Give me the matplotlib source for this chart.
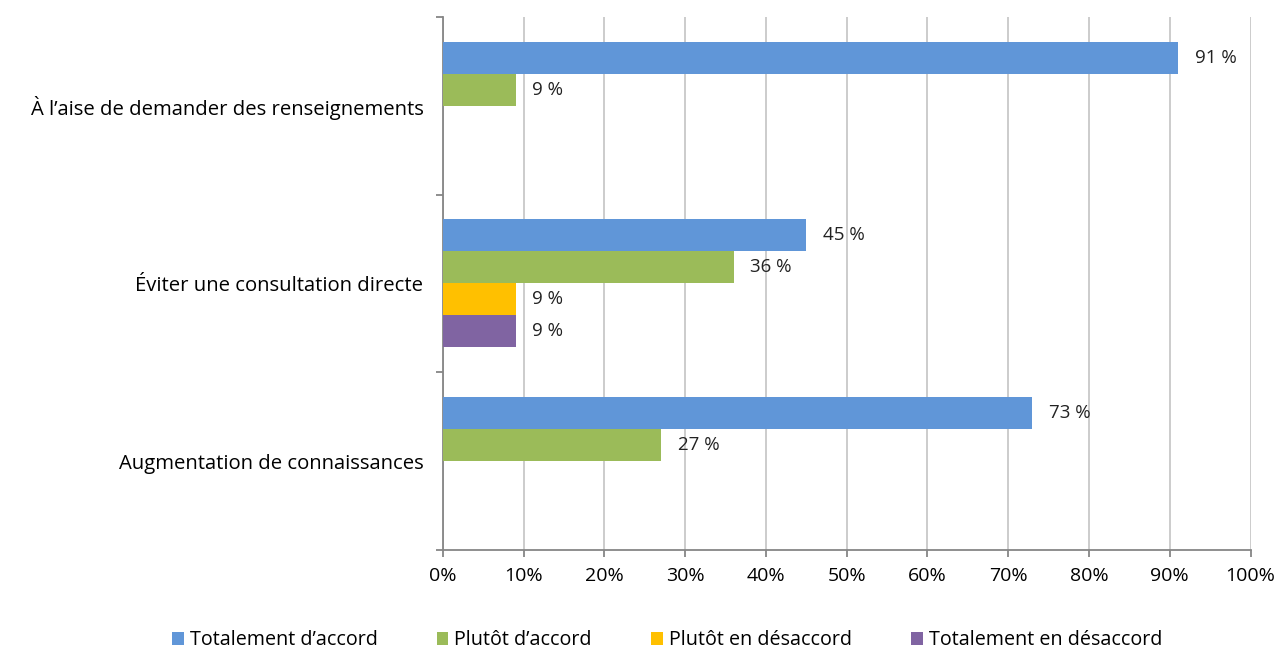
import numpy as np
import matplotlib.pyplot as plt
from matplotlib.ticker import FixedLocator, PercentFormatter

plt.rcParams['font.family'] = ['Open Sans', 'DejaVu Sans']

categories = ["À l’aise de demander des renseignements",
              "Éviter une consultation directe",
              "Augmentation de connaissances"]
series = ["Totalement d’accord", "Plutôt d’accord",
          "Plutôt en désaccord", "Totalement en désaccord"]
totalement_accord = [91, 45, 73]
plutot_accord = [9, 36, 27]
plutot_desaccord = [0, 9, 0]
totalement_desaccord = [0, 9, 0]
colors = ["#6096D8", "#9BBB59", "#FFC000", "#8064A2"]

values = [totalement_accord, plutot_accord, plutot_desaccord, totalement_desaccord]
FS = 13.5

fig = plt.figure(figsize=(12.8, 6.5), dpi=100)
ax = fig.add_axes([0.346, 0.154, 0.631, 0.820])

n = len(categories)
ypos = np.arange(n)[::-1]  # first category on top
h = 0.18
for i, (name, vals, col) in enumerate(zip(series, values, colors)):
    y = ypos + (1.5 - i) * h
    ax.barh(y, vals, height=h, color=col, label=name, zorder=3)
    for yy, v in zip(y, vals):
        if v > 0:
            ax.annotate(f"{v} %", (v, yy), xytext=(12, 0), textcoords='offset points',
                        va='center', ha='left', fontsize=FS, color='#222222')

ax.set_xlim(0, 100)
ax.set_ylim(-0.5, n - 0.5)
ax.xaxis.set_major_locator(FixedLocator(np.arange(0, 101, 10)))
ax.xaxis.set_major_formatter(PercentFormatter(decimals=0))
ax.grid(axis='x', color='#C8C8C8', linewidth=1.3, zorder=0)

ax.set_yticks(ypos)
ax.set_yticklabels(categories, fontsize=14.6)
ax.yaxis.set_minor_locator(FixedLocator(np.arange(-0.5, n, 1.0)))
ax.tick_params(axis='y', which='major', length=0, pad=14)
ax.tick_params(axis='y', which='minor', length=5, color='#868686', width=1.3)
ax.tick_params(axis='x', length=5, color='#868686', width=1.3, labelsize=14, pad=7)

for s in ['top', 'right']:
    ax.spines[s].set_visible(False)
for s in ['left', 'bottom']:
    ax.spines[s].set_color('#868686')
    ax.spines[s].set_linewidth(1.3)

fig.legend(loc='center', bbox_to_anchor=(0.521, 0.015), ncol=4, frameon=False,
           fontsize=14.2, handlelength=0.6, handleheight=0.6, handletextpad=0.3,
           columnspacing=3.0)

fig.savefig("out.png", dpi=100)
